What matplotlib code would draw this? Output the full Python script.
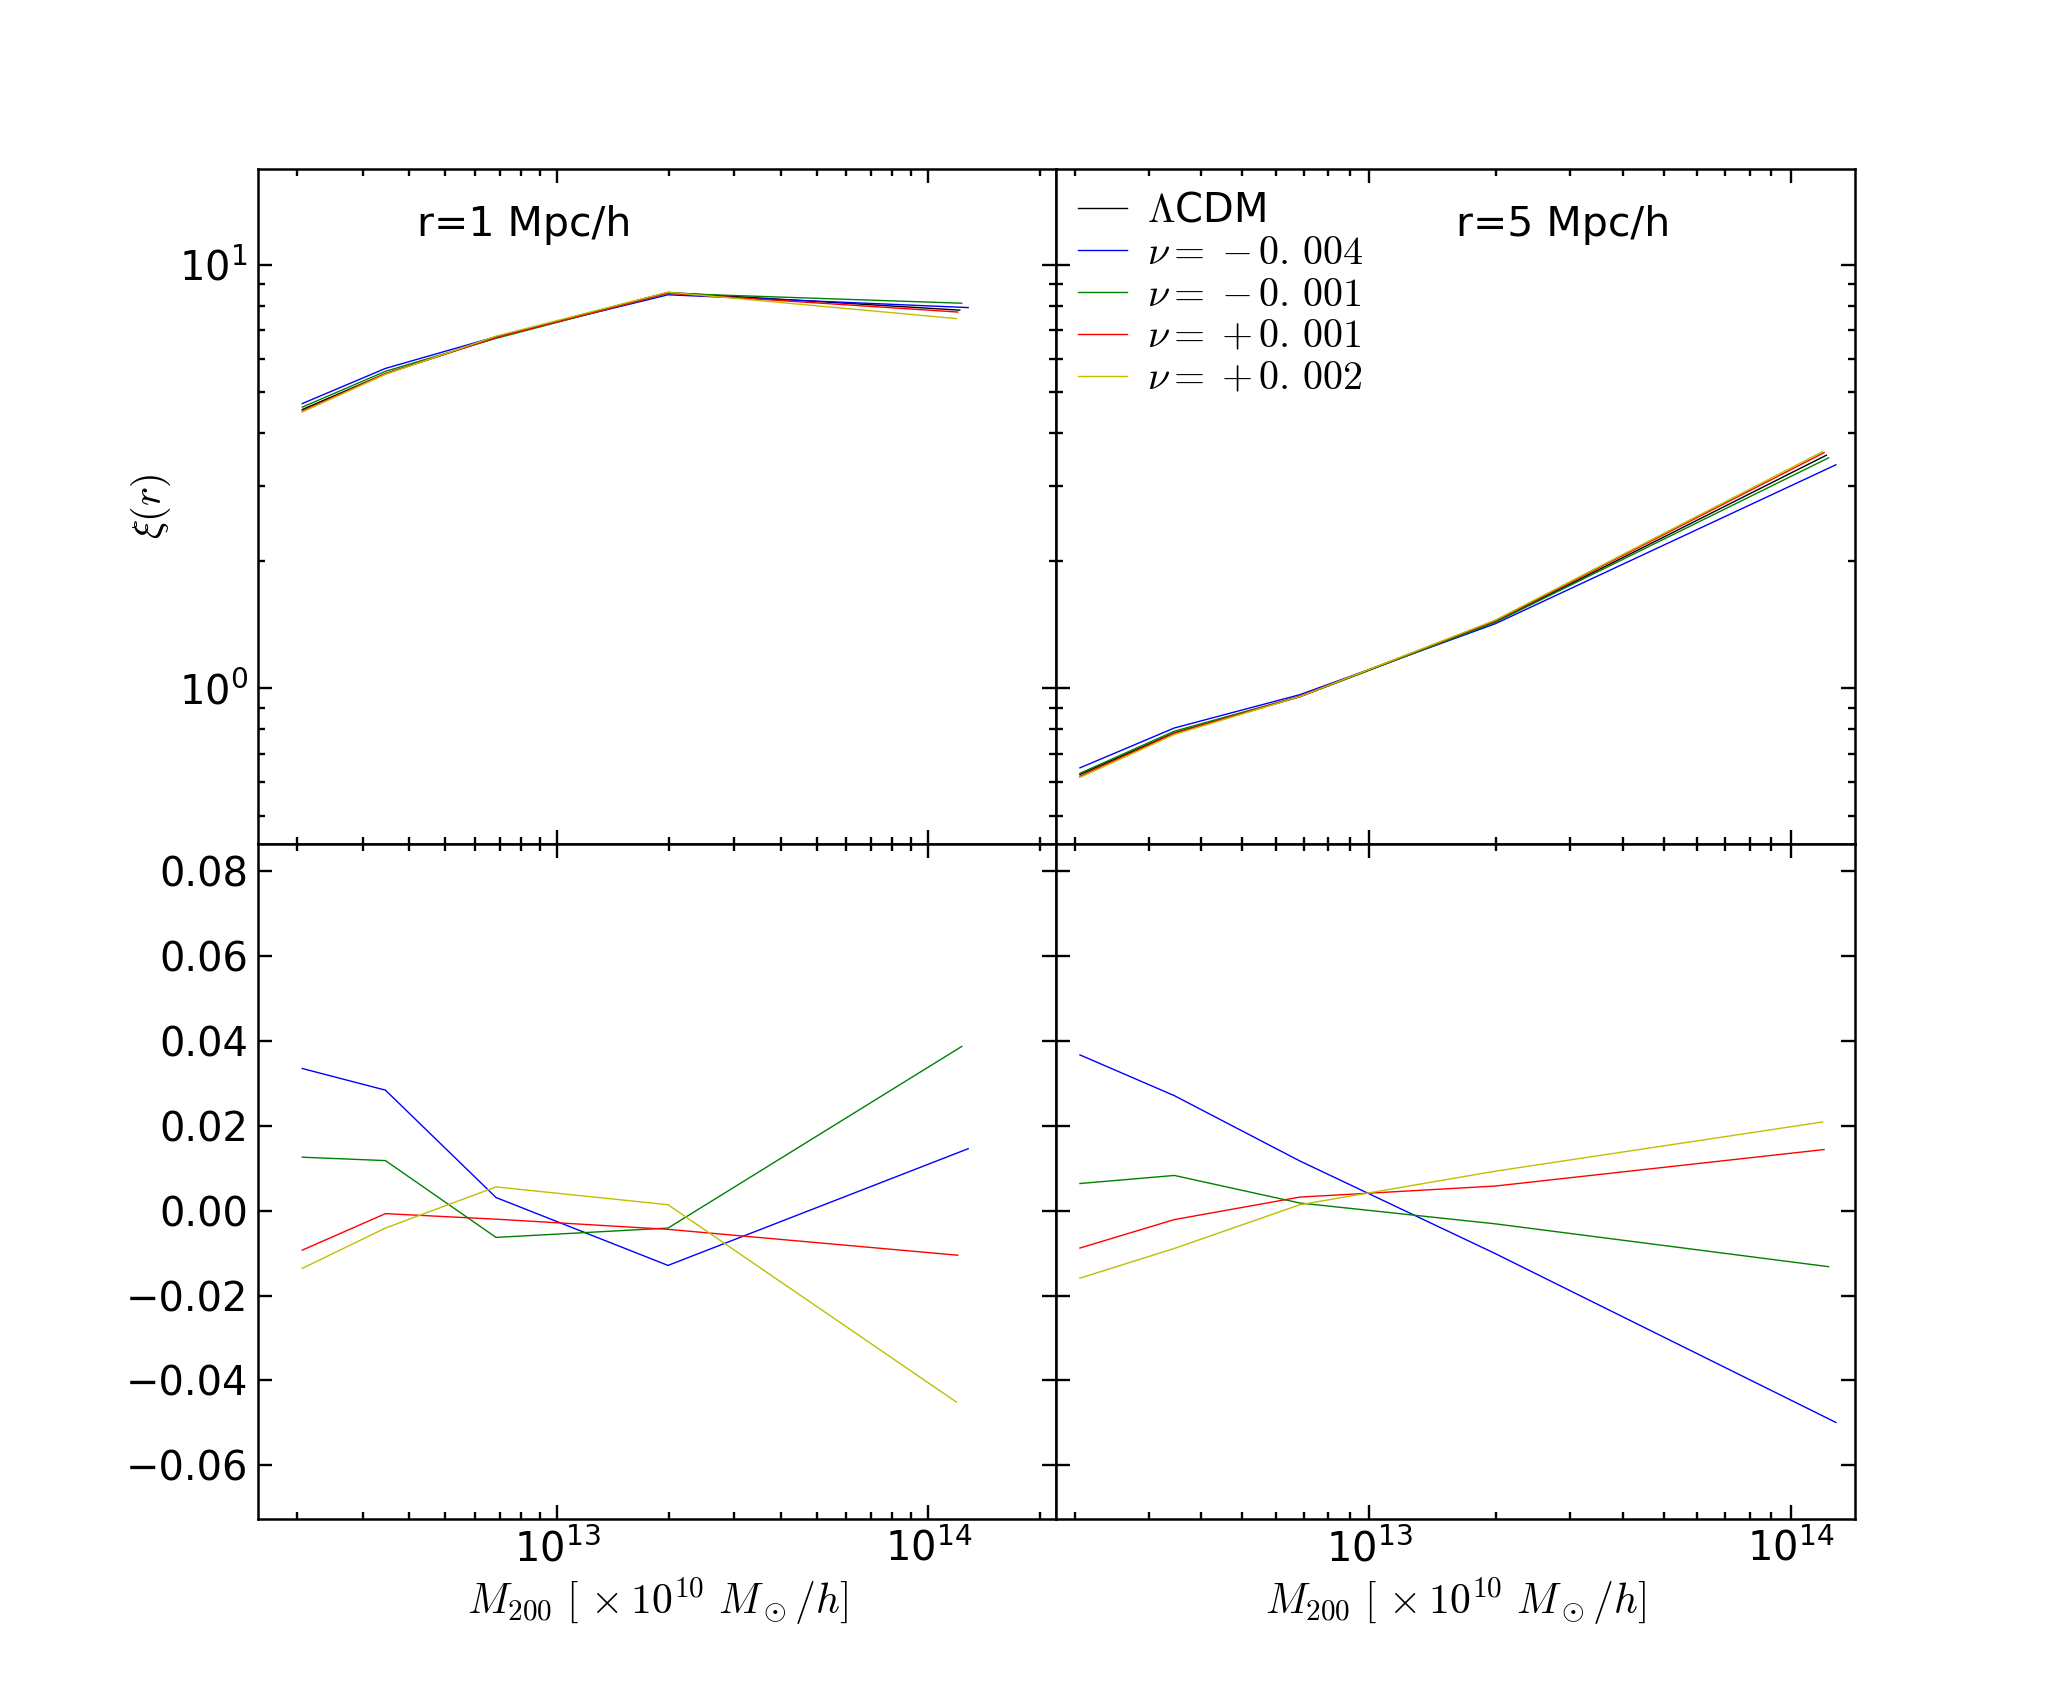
import matplotlib
matplotlib.use("Agg")
import matplotlib.pyplot as plt

plt.rcParams['mathtext.fontset'] = 'cm'
plt.rcParams['font.family'] = ['DejaVu Sans']

# halo mass bins (first four shared, last bin differs per model)
mass = [2.06e12, 3.45e12, 6.85e12, 1.99e13]
mass_last = {'lcdm': 1.215e14, 'm004': 1.28e14, 'm001': 1.23e14,
             'p001': 1.20e14, 'p002': 1.19e14}

models = ['lcdm', 'm004', 'm001', 'p001', 'p002']
labels = [r'$\Lambda$CDM', r'$\nu=\;{-}\,0.\,004$', r'$\nu=\;{-}\,0.\,001$',
          r'$\nu=\;{+}\,0.\,001$', r'$\nu=\;{+}\,0.\,002$']
colors = ['k', 'b', 'g', 'r', 'y']

# xi(r) at r = 1 Mpc/h
xi_r1 = {
    'lcdm': [4.55, 5.53, 6.74, 8.60, 7.81],
    'm004': [4.70, 5.69, 6.76, 8.49, 7.92],
    'm001': [4.61, 5.60, 6.70, 8.56, 8.11],
    'p001': [4.51, 5.53, 6.73, 8.56, 7.73],
    'p002': [4.49, 5.51, 6.78, 8.61, 7.46],
}
# xi(r) at r = 5 Mpc/h
xi_r5 = {
    'lcdm': [0.626, 0.785, 0.955, 1.435, 3.55],
    'm004': [0.649, 0.806, 0.966, 1.420, 3.37],
    'm001': [0.630, 0.792, 0.957, 1.431, 3.50],
    'p001': [0.620, 0.783, 0.958, 1.443, 3.60],
    'p002': [0.616, 0.778, 0.956, 1.448, 3.62],
}
# relative difference to LCDM
diff_r1 = {
    'm004': [0.0335, 0.0284, 0.0031, -0.0129, 0.0146],
    'm001': [0.0126, 0.0118, -0.0063, -0.0041, 0.0387],
    'p001': [-0.0093, -0.0007, -0.0020, -0.0044, -0.0105],
    'p002': [-0.0136, -0.0041, 0.0056, 0.0014, -0.0451],
}
diff_r5 = {
    'm004': [0.0367, 0.0271, 0.0117, -0.0101, -0.0499],
    'm001': [0.0064, 0.0083, 0.0018, -0.0031, -0.0132],
    'p001': [-0.0088, -0.0021, 0.0032, 0.0058, 0.0144],
    'p002': [-0.0159, -0.0089, 0.0014, 0.0093, 0.0209],
}

fig, axes = plt.subplots(2, 2, sharex='col', sharey='row', figsize=(20.61, 16.88), dpi=100)
plt.subplots_adjust(left=0.125, right=0.9, bottom=0.1, top=0.9, wspace=0, hspace=0)

for col, (xi, diff, title) in enumerate([(xi_r1, diff_r1, 'r=1 Mpc/h'),
                                          (xi_r5, diff_r5, 'r=5 Mpc/h')]):
    ax_top = axes[0, col]
    ax_bot = axes[1, col]
    for m, lab, c in zip(models, labels, colors):
        x = mass + [mass_last[m]]
        ax_top.plot(x, xi[m], color=c, lw=1.0, label=lab)
        if m in diff:
            ax_bot.plot(x, diff[m], color=c, lw=1.0)
    ax_top.set_yscale('log')
    ax_top.set_xscale('log')
    xpos = 0.2 if col == 0 else 0.5
    ax_top.text(xpos, 0.9, title, transform=ax_top.transAxes, fontsize=29.5)
    ax_bot.set_xlabel(r'$M_{200}\ [\,\times 10^{10}\ M_\odot/h]$', fontsize=30, labelpad=4)

axes[0, 0].set_xlim(1.562e12, 2.21e14)
axes[0, 1].set_xlim(1.81e12, 1.42e14)
axes[0, 0].set_ylim(0.429, 16.84)
axes[1, 0].set_ylim(-0.0727, 0.0864)
axes[1, 0].set_yticks([-0.06, -0.04, -0.02, 0.0, 0.02, 0.04, 0.06, 0.08])
axes[0, 0].set_ylabel(r'$\xi(r)$', fontsize=29, labelpad=4)

for ax in axes.flat:
    for sp in ax.spines.values():
        sp.set_linewidth(1.8)
    ax.tick_params(which='both', direction='in', top=True, right=True, width=1.7,
                   labelsize=28.8, pad=7)
    ax.tick_params(which='major', length=10)
    ax.tick_params(which='minor', length=5)

axes[0, 1].legend(loc='upper left', frameon=False, fontsize=28.8, labelspacing=0.05,
                  handlelength=1.22, handletextpad=0.5, borderaxespad=0.15, borderpad=0.4)

fig.savefig('out.png', dpi=100)
